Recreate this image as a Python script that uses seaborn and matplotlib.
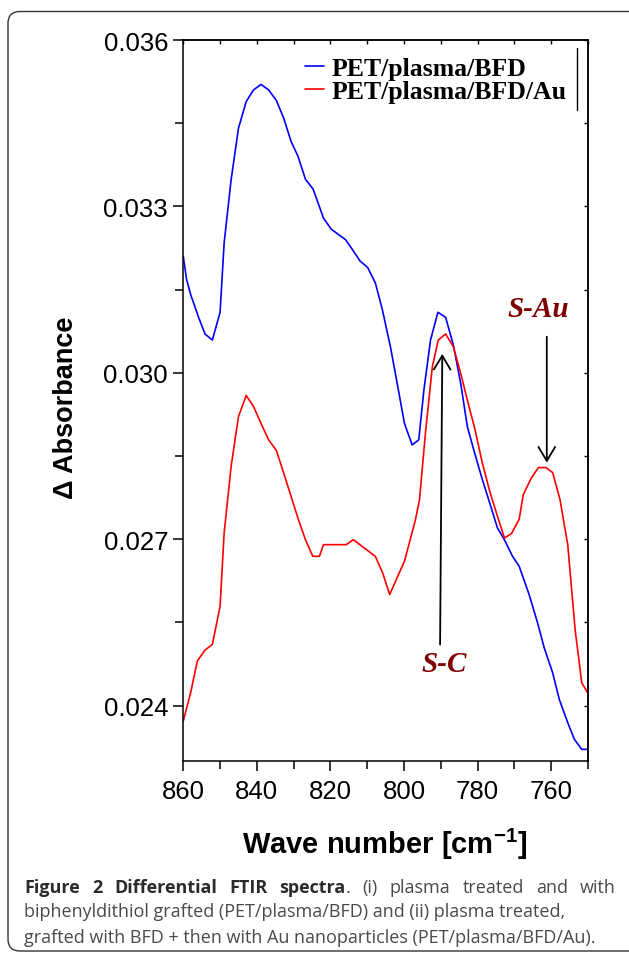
import pandas as pd
import matplotlib
matplotlib.use("Agg")
import matplotlib.pyplot as plt
import seaborn as sns
from matplotlib.patches import FancyBboxPatch
from matplotlib.ticker import MultipleLocator, FormatStrFormatter
from matplotlib.transforms import IdentityTransform

# spectra (wave number cm-1, delta absorbance)
wn_bfd = [860, 859.1, 858, 855.9, 854.1, 852.1, 850, 848.9, 847, 845, 842.9, 840.9,
          838.9, 836.8, 834.7, 832.7, 830.7, 828.8, 826.8, 824.7, 821.9, 819.8, 815.9,
          813.8, 811.9, 809.9, 807.8, 805.9, 803.7, 801.7, 799.9, 797.8, 796, 794.6,
          792.8, 790.8, 788.7, 786.6, 784.6, 782.8, 780.8, 778.7, 776.7, 774.6, 772.8,
          770.5, 768.7, 766, 763.7, 761.9, 759.6, 757.8, 755.5, 753.7, 751.7, 750]
abs_bfd = [0.03210, 0.03168, 0.03141, 0.03101, 0.03070, 0.03059, 0.03109, 0.03234,
           0.03348, 0.03441, 0.03489, 0.03510, 0.03520, 0.03510, 0.03491, 0.03459,
           0.03417, 0.03390, 0.03349, 0.03331, 0.03279, 0.03259, 0.03240, 0.03220,
           0.03201, 0.03190, 0.03162, 0.03114, 0.03047, 0.02975, 0.02909, 0.02870,
           0.02879, 0.02969, 0.03059, 0.03109, 0.03100, 0.03050, 0.02981, 0.02903,
           0.02855, 0.02807, 0.02765, 0.02720, 0.02700, 0.02669, 0.02651, 0.02600,
           0.02549, 0.02504, 0.02459, 0.02411, 0.02369, 0.02339, 0.02321, 0.02321]

wn_au = [860, 858, 856.2, 854.1, 852.1, 850, 848.9, 847, 845, 842.9, 840.9, 838.9,
         836.8, 834.7, 832.7, 828.7, 826.8, 824.8, 823, 821.9, 815.7, 813.8, 807.8,
         805.8, 803.9, 801.9, 799.9, 798.2, 796.9, 795.8, 794.1, 792.3, 790.7, 788.7,
         786.6, 784.6, 782.8, 780.8, 778.7, 776.7, 774.6, 772.7, 770.8, 768.7, 767.6,
         765.5, 763.5, 761.4, 759.6, 757.6, 755.5, 753.5, 751.7, 750]
abs_au = [0.02372, 0.02423, 0.02480, 0.02500, 0.02510, 0.02579, 0.02711, 0.02831,
          0.02921, 0.02959, 0.02939, 0.02909, 0.02879, 0.02860, 0.02819, 0.02735,
          0.02699, 0.02669, 0.02669, 0.02690, 0.02690, 0.02699, 0.02669, 0.02639,
          0.02600, 0.02630, 0.02660, 0.02702, 0.02735, 0.02771, 0.02897, 0.03011,
          0.03059, 0.03070, 0.03047, 0.02999, 0.02951, 0.02900, 0.02837, 0.02786,
          0.02741, 0.02702, 0.02710, 0.02736, 0.02780, 0.02809, 0.02829, 0.02829,
          0.02820, 0.02771, 0.02690, 0.02537, 0.02441, 0.02422]

series_names = ["PET/plasma/BFD", "PET/plasma/BFD/Au"]
series_colors = ["#0000ff", "#ff0000"]
x_ticks = [860, 840, 820, 800, 780, 760]
y_ticks = [0.024, 0.027, 0.030, 0.033, 0.036]

caption_bold = "Figure 2 Differential FTIR spectra"
caption_lines = [". (i) plasma treated and with",
                 "biphenyldithiol grafted (PET/plasma/BFD) and (ii) plasma treated,",
                 "grafted with BFD + then with Au nanoparticles (PET/plasma/BFD/Au)."]

df = pd.concat([
    pd.DataFrame({"wn": wn_bfd, "absorbance": abs_bfd, "series": series_names[0]}),
    pd.DataFrame({"wn": wn_au, "absorbance": abs_au, "series": series_names[1]}),
])

sns.set_theme(style="ticks")
plt.rcParams["font.family"] = ["Liberation Sans", "DejaVu Sans"]
plt.rcParams["text.color"] = "black"
plt.rcParams["mathtext.fontset"] = "custom"
plt.rcParams["mathtext.bf"] = "Liberation Sans:bold"
plt.rcParams["mathtext.rm"] = "Liberation Sans"

fig = plt.figure(figsize=(6.29, 9.54), dpi=100)
ax = fig.add_axes([0.2914, 0.2013, 0.6434, 0.7557])

sns.lineplot(data=df, x="wn", y="absorbance", hue="series", hue_order=series_names,
             palette=dict(zip(series_names, series_colors)), estimator=None,
             sort=False, lw=1.2, ax=ax)

ax.set_xlim(860, 750)
ax.set_ylim(0.0230, 0.036)
ax.set_xticks(x_ticks)
ax.set_yticks(y_ticks)
ax.xaxis.set_minor_locator(MultipleLocator(10))
ax.yaxis.set_minor_locator(MultipleLocator(0.0015))
ax.yaxis.set_major_formatter(FormatStrFormatter("%.3f"))
ax.set_xlabel("")
ax.set_ylabel("")
ax.tick_params(which="major", direction="out", length=7, width=1.1, color="black",
               labelsize=18.5, labelcolor="black")
ax.tick_params(axis="y", which="major", pad=4)
ax.tick_params(axis="x", which="major", pad=6)
ax.tick_params(which="minor", direction="out", length=6, width=1.1, color="black")
for s in ax.spines.values():
    s.set_linewidth(1.1)
    s.set_color("black")
    s.set_visible(True)

# mirrored ticks pointing inward on top and right
top = ax.secondary_xaxis("top")
top.set_xticks(x_ticks)
top.xaxis.set_minor_locator(MultipleLocator(10))
top.tick_params(which="both", direction="in", length=3, width=1.0, color="black",
                labeltop=False)
right = ax.secondary_yaxis("right")
right.set_yticks(y_ticks)
right.yaxis.set_minor_locator(MultipleLocator(0.0015))
right.tick_params(which="both", direction="in", length=3, width=1.0, color="black",
                  labelright=False)

handles, labels = ax.get_legend_handles_labels()
leg = ax.legend(handles, labels, loc="upper left", bbox_to_anchor=(0.30, 0.976),
                frameon=False, borderpad=0, borderaxespad=0, handlelength=0.75,
                handletextpad=0.3, labelspacing=0.0,
                prop={"family": "Liberation Serif", "weight": "bold", "size": 18.5})
for t in leg.get_texts():
    t.set_color("black")
ax.plot([0.973, 0.973], [0.903, 0.989], transform=ax.transAxes, color="black", lw=1.0)

# peak annotations
note = dict(family="Liberation Serif", weight="bold", style="italic", size=21,
            color="#800000", ha="center", va="center")
arrow = dict(arrowstyle="->,head_length=0.5,head_width=0.3", color="black", lw=1.3,
             mutation_scale=20, shrinkA=0, shrinkB=0)
ax.text(763.4, 0.03115, "S-Au", **note)
ax.annotate("", xy=(761.2, 0.02838), xytext=(761.2, 0.03065), arrowprops=arrow)
ax.text(789.1, 0.02476, "S-C", **note)
ax.annotate("", xy=(789.6, 0.03034), xytext=(790.2, 0.0251), arrowprops=arrow)

fig.text(66 / 629, 1 - 408 / 954, "Δ Absorbance", rotation=90, ha="center",
         va="center", fontsize=19.5, fontweight="bold", color="black")
fig.text(385 / 629, 1 - 844 / 954, r"Wave number [cm$^{\mathbf{-1}}$]", ha="center",
         va="center", fontsize=21, fontweight="bold", color="black")

# rounded frame around figure + caption
fig.add_artist(FancyBboxPatch((8, 2), 650, 939.5, boxstyle="round,pad=0,rounding_size=12",
                              transform=IdentityTransform(), fill=False,
                              ec="#333333", lw=1.0, clip_on=False))

# caption, first line justified to the right margin
cap_font = "Open Sans"
cap_size = 13.0
cap_left = 24
baselines = [954 - 893, 954 - 917.5, 954 - 943]
fig.canvas.draw()
rend = fig.canvas.get_renderer()


def put(x, y, s, bold):
    t = fig.text(x, y, s, transform=IdentityTransform(), family=cap_font,
                 weight="bold" if bold else "normal", size=cap_size,
                 color="#2b2b2b" if bold else "#4a4a4a", va="baseline")
    return t, t.get_window_extent(rend).width


words = [[(w, True)] for w in caption_bold.split(" ")]
words[-1].append((caption_lines[0].split(" ")[0], False))
words += [[(w, False)] for w in caption_lines[0].split(" ")[1:]]

# measure, then place with stretched gaps
placed = []
x = cap_left
for word in words:
    for seg, bold in word:
        t, w = put(x, baselines[0], seg, bold)
        placed.append(t)
        x += w
total = x - cap_left
gap = (616 - cap_left - total) / (len(words) - 1)
for t in placed:
    t.remove()
x = cap_left
for word in words:
    for seg, bold in word:
        t, w = put(x, baselines[0], seg, bold)
        x += w
    x += gap

for line, yb in zip(caption_lines[1:], baselines[1:]):
    put(cap_left, yb, line, False)

fig.savefig("out.png", dpi=100)
